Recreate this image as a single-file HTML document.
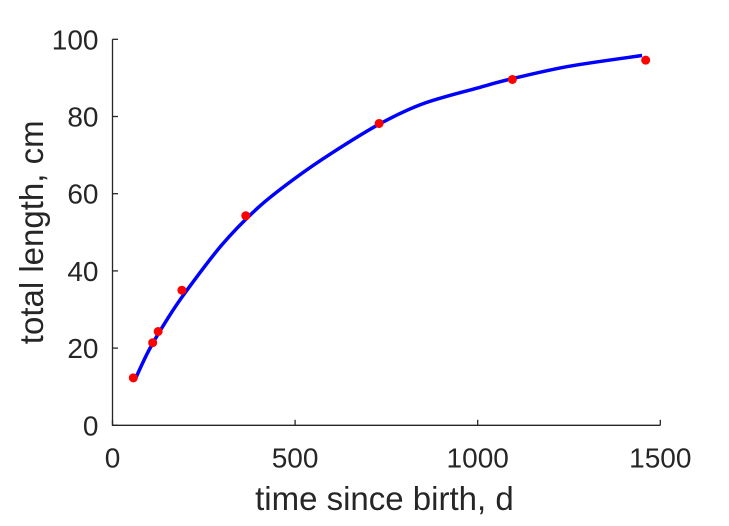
<!DOCTYPE html>
<html><head><meta charset="utf-8"><style>
body{margin:0;background:#fff;}
svg text{font-family:"Liberation Sans",sans-serif;fill:#262626;}
</style></head><body>
<svg id="chart" width="729" height="521" xmlns="http://www.w3.org/2000/svg">
<g id="axes"></g>
<g id="series"></g>
</svg>
<script>
const obsDays=[57,110,125,190,365,730,1095,1460];
const obsLength=[12.3,21.4,24.3,35,54.3,78.2,89.6,94.6];
const fitDays=[60,100,150,200,300,400,500,600,730,850,1000,1095,1250,1450];
const fitLength=[11.5,19.5,27.5,34.5,46.8,56.5,64,70.5,78,83.3,87.4,89.8,93,95.8];
const xTicks=[0,500,1000,1500];
const yTicks=[0,20,40,60,80,100];
const L=112.5,R=660.3,T=39.3,B=425.3;
const xs=v=>L+(v/1500)*(R-L);
const ys=v=>B-(v/100)*(B-T);
const NS="http://www.w3.org/2000/svg";
const axes=document.getElementById('axes'),ser=document.getElementById('series');
function mk(tag,attrs,parent){const e=document.createElementNS(NS,tag);for(const k in attrs)e.setAttribute(k,attrs[k]);parent.appendChild(e);return e;}
let e=mk('path',{d:`M${L},${T}V${B}H${R}`,fill:'none',stroke:'#262626','stroke-width':1.3},axes);


xTicks.forEach(t=>{
 const x=xs(t);
 let tk=mk('line',{x1:x,x2:x,y1:B,y2:B-5.5,stroke:'#262626','stroke-width':1.3},axes);
 
 
 let tx=mk('text',{x:x,y:B+42,'text-anchor':'middle','font-size':28},axes);
 tx.textContent=t;
 
 
});
yTicks.forEach(t=>{
 const y=ys(t);
 let tk=mk('line',{x1:L,x2:L+5.5,y1:y,y2:y,stroke:'#262626','stroke-width':1.3},axes);
 
 
 let tx=mk('text',{x:L-14,y:y+10,'text-anchor':'end','font-size':28},axes);
 tx.textContent=t;
 
 
});
let xl=mk('text',{x:(L+R)/2-2,y:510,'text-anchor':'middle','font-size':33},axes);
xl.textContent='time since birth, d';


let yl=mk('text',{x:0,y:0,'text-anchor':'middle','font-size':33,transform:`translate(43,${(T+B)/2}) rotate(-90)`},axes);
yl.textContent='total length, cm';


const P=fitDays.map((d,i)=>[xs(d),ys(fitLength[i])]);
let d=`M${P[0][0]},${P[0][1]}`;
for(let i=0;i<P.length-1;i++){
 const p0=P[Math.max(0,i-1)],p1=P[i],p2=P[i+1],p3=P[Math.min(P.length-1,i+2)];
 d+=`C${p1[0]+(p2[0]-p0[0])/6},${p1[1]+(p2[1]-p0[1])/6} ${p2[0]-(p3[0]-p1[0])/6},${p2[1]-(p3[1]-p1[1])/6} ${p2[0]},${p2[1]}`;
}
let ln=mk('path',{d:d,fill:'none',stroke:'#0000ff','stroke-width':3.5},ser);


obsDays.forEach((dd,i)=>{
 let c=mk('circle',{cx:xs(dd),cy:ys(obsLength[i]),r:4.5,fill:'#ff0000'},ser);
 
 
});
</script>
</body></html>
